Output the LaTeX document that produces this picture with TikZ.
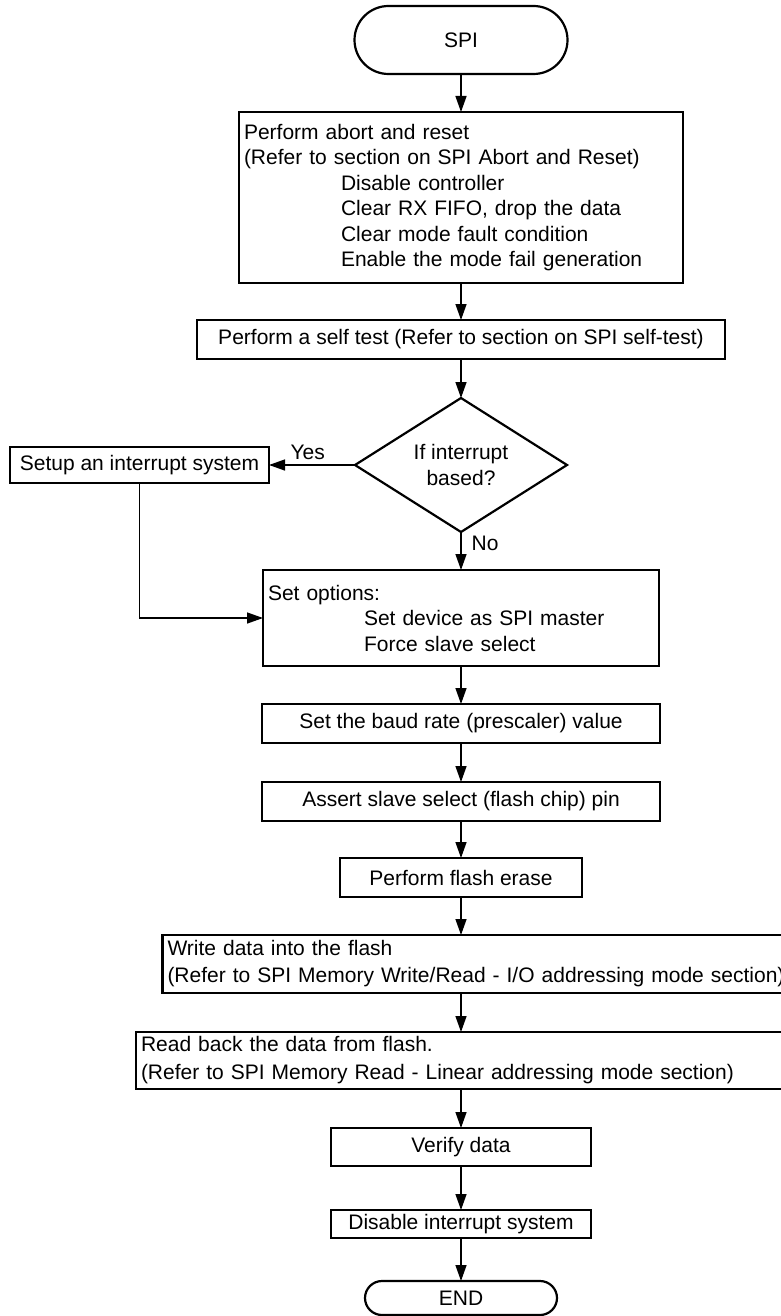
\documentclass[tikz,border=0pt]{standalone}
\usepackage{fontspec}
\setmainfont{Liberation Sans}
\usetikzlibrary{arrows.meta,positioning,shapes.geometric,shapes.misc}
\tikzset{box/.style={draw,line width=2.2pt,outer sep=0pt,inner xsep=5pt,inner ysep=3pt,align=center,minimum height=39pt,font=\fontsize{21}{25.5}\selectfont},
         term/.style={draw,line width=2.2pt,outer sep=0pt,rounded rectangle,inner sep=2pt,font=\fontsize{21}{25.5}\selectfont},
         decision/.style={draw,line width=2.2pt,outer sep=0pt,diamond,aspect=1.58,inner sep=0pt,align=center,minimum width=212pt,minimum height=134pt,font=\fontsize{21}{25.5}\selectfont},
         flow/.style={-{Triangle[length=16pt,width=11pt]},line width=1.4pt},
         lbl/.style={inner sep=2pt,font=\fontsize{21}{25.5}\selectfont}}

\begin{document}
\begin{tikzpicture}[node distance=38pt]
\useasboundingbox (0pt,0pt) rectangle (780pt,-1316pt);
\node[term, minimum width=217pt, minimum height=68pt] (spi) at (461pt,-40pt) {SPI};
\node[box, below=of spi, text width=434pt, align=left, minimum height=171pt] (abort) {Perform abort and reset\\(Refer to section on SPI Abort and Reset)\\\hspace*{97pt}Disable controller\\\hspace*{97pt}Clear RX FIFO, drop the data\\\hspace*{97pt}Clear mode fault condition\\\hspace*{97pt}Enable the mode fail generation};
\node[box, below=37pt of abort, minimum width=528pt] (selftest) {Perform a self test (Refer to section on SPI self-test)};
\node[decision, below=39pt of selftest] (dec) {If interrupt\\based?};
\node[box, left=86pt of dec, minimum width=259pt, minimum height=36pt] (setup) {Setup an interrupt system};
\node[box, below=of dec, text width=386pt, align=left, minimum height=96pt] (setopt) {Set options:\\\hspace*{96pt}Set device as SPI master\\\hspace*{96pt}Force slave select};
\node[box, below=of setopt, minimum width=398pt] (baud) {Set the baud rate (prescaler) value};
\node[box, below=39pt of baud, minimum width=398pt] (assert) {Assert slave select (flash chip) pin};
\node[box, below=37pt of assert, minimum width=242pt] (flash) {Perform flash erase};
\node[box, below=of flash, xshift=18pt, text width=623pt, align=left, minimum height=58pt, font=\fontsize{21}{27}\selectfont] (write) {Write data into the flash\\(Refer to SPI Memory Write/Read - I/O addressing mode section)};
\node[box, below=39pt of write, xshift=-18pt, text width=640pt, align=left, minimum height=57pt, font=\fontsize{21}{28}\selectfont] (read) {Read back the data from flash.\\(Refer to SPI Memory Read - Linear addressing mode section)};
\node[box, below=39pt of read, minimum width=260pt, minimum height=38pt] (verify) {Verify data};
\node[box, below=44pt of verify, minimum width=260pt, minimum height=28pt, inner ysep=1pt] (disable) {Disable interrupt system};
\node[term, below=43pt of disable, minimum width=196pt, minimum height=34pt] (fin) {END};
\draw[flow] (spi) -- (abort);
\draw[flow] (abort) -- (selftest);
\draw[flow] (selftest) -- (dec);
\draw[flow] (dec) -- node[lbl, pos=0.55, above=3pt] {Yes} (setup);
\draw[flow] (dec) -- node[lbl, pos=0.3, right=8pt] {No} (setopt);
\draw[flow] (setup) |- (setopt);
\draw[flow] (setopt) -- (baud);
\draw[flow] (baud) -- (assert);
\draw[flow] (assert) -- (flash);
\draw[flow] (flash) -- (flash |- write.north);
\draw[flow] (write.south -| read) -- (read);
\draw[flow] (read) -- (verify);
\draw[flow] (verify) -- (disable);
\draw[flow] (disable) -- (fin);
\end{tikzpicture}
\end{document}
